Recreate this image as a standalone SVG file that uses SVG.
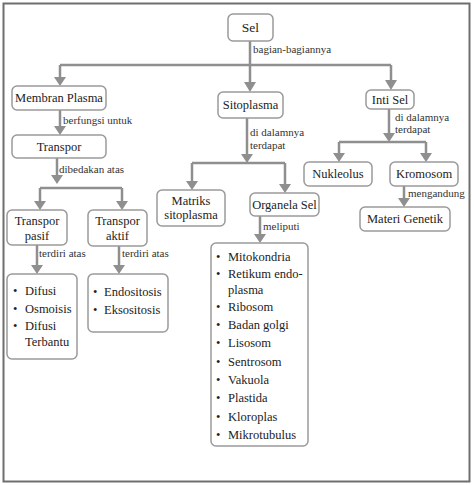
<svg xmlns="http://www.w3.org/2000/svg" width="474" height="485" viewBox="0 0 474 485">
<style>
text{font-family:"Liberation Serif","Times New Roman",serif}
.box{fill:#fff;stroke:#9a9a9a;stroke-width:1.5}
.t{font-size:12.5px;fill:#222;text-anchor:middle}
.li{font-size:12.5px;fill:#222}
.lb{font-size:11px;fill:#333}
.c{stroke:#8f8f8f;stroke-width:2.5;fill:none}
.ah{fill:#8f8f8f}
</style>
<rect x="0" y="0" width="474" height="485" fill="#fff"/>
<rect x="3.5" y="3.5" width="466" height="478" fill="none" stroke="#6e6e6e" stroke-width="2"/>
<g id="connectors">
<path class="c" d="M60,65 H391"/>
<path class="c" d="M250,41 V84"/>
<path class="ah" d="M244,82 L256,82 L250,92 Z"/>
<path class="c" d="M60,65 V78"/><path class="ah" d="M54,77 L66,77 L60,86 Z"/>
<path class="c" d="M391,65 V81"/><path class="ah" d="M385,80 L397,80 L391,90 Z"/>
<path class="c" d="M60,110 V127"/><path class="ah" d="M54,126 L66,126 L60,135 Z"/>
<path class="c" d="M57,158 V176"/><path class="ah" d="M51,175 L63,175 L57,184 Z"/>
<path class="c" d="M40,188 H122 M40,188 V202 M122,188 V202"/>
<path class="ah" d="M34,201 L46,201 L40,210 Z"/><path class="ah" d="M116,201 L128,201 L122,210 Z"/>
<path class="c" d="M247,118 V155"/><path class="ah" d="M241,154 L253,154 L247,163 Z"/>
<path class="c" d="M192,163 H285 M192,163 V182 M285,163 V185"/>
<path class="ah" d="M186,181 L198,181 L192,190 Z"/><path class="ah" d="M279,184 L291,184 L285,193 Z"/>
<path class="c" d="M389,109 V134"/><path class="ah" d="M383,133 L395,133 L389,142 Z"/>
<path class="c" d="M339,142 H426 M339,142 V154 M426,142 V154"/>
<path class="ah" d="M333,153 L345,153 L339,162 Z"/><path class="ah" d="M420,153 L432,153 L426,162 Z"/>
<path class="c" d="M404,186 V199"/><path class="ah" d="M398,198 L410,198 L404,207 Z"/>
<path class="c" d="M260,216 V235"/><path class="ah" d="M254,234 L266,234 L260,243 Z"/>
<path class="c" d="M37,245 V266"/><path class="ah" d="M31,265 L43,265 L37,274 Z"/>
<path class="c" d="M119,246 V266"/><path class="ah" d="M113,265 L125,265 L119,274 Z"/>
<text class="lb" x="253" y="53">bagian-bagiannya</text>
<text class="lb" x="63" y="124">berfungsi untuk</text>
<text class="lb" x="59" y="173">dibedakan atas</text>
<text class="lb" x="250" y="136">di dalamnya</text>
<text class="lb" x="250" y="149">terdapat</text>
<text class="lb" x="395" y="121">di dalamnya</text>
<text class="lb" x="395" y="133">terdapat</text>
<text class="lb" x="408" y="197">mengandung</text>
<text class="lb" x="263" y="230">meliputi</text>
<text class="lb" x="39" y="257">terdiri atas</text>
<text class="lb" x="122" y="257">terdiri atas</text>
</g>
<g id="sel"><rect class="box" x="228" y="14" width="45" height="27" rx="5"/><text class="t" x="250.5" y="32" style="font-size:13.5px">Sel</text></g>
<g id="membran"><rect class="box" x="12" y="86" width="94" height="24" rx="5"/><text class="t" x="59" y="102">Membran Plasma</text></g>
<g id="sitoplasma"><rect class="box" x="218" y="92" width="65" height="26" rx="5"/><text class="t" x="250.5" y="109">Sitoplasma</text></g>
<g id="intisel"><rect class="box" x="366" y="90" width="48" height="19" rx="5"/><text class="t" x="390" y="104">Inti Sel</text></g>
<g id="transpor"><rect class="box" x="12" y="135" width="94" height="23" rx="5"/><text class="t" x="59" y="151">Transpor</text></g>
<g id="pasif"><rect class="box" x="7" y="210" width="60" height="35" rx="5"/><text class="t" x="37" y="225">Transpor</text><text class="t" x="37" y="240">pasif</text></g>
<g id="aktif"><rect class="box" x="88" y="210" width="59" height="36" rx="5"/><text class="t" x="117.5" y="225">Transpor</text><text class="t" x="117.5" y="240">aktif</text></g>
<g id="matriks"><rect class="box" x="157" y="190" width="68" height="36" rx="5"/><text class="t" x="191" y="205">Matriks</text><text class="t" x="191" y="219">sitoplasma</text></g>
<g id="organela"><rect class="box" x="250" y="193" width="69" height="23" rx="5"/><text class="t" x="284.5" y="209">Organela Sel</text></g>
<g id="nukleolus"><rect class="box" x="304" y="162" width="68" height="24" rx="5"/><text class="t" x="338" y="178">Nukleolus</text></g>
<g id="kromosom"><rect class="box" x="390" y="162" width="68" height="24" rx="5"/><text class="t" x="424" y="178">Kromosom</text></g>
<g id="materi"><rect class="box" x="360" y="207" width="90" height="24" rx="5"/><text class="t" x="405" y="223">Materi Genetik</text></g>
<g id="list-pasif"><rect class="box" x="7" y="274" width="70" height="85" rx="5"/>
<text class="li" x="13" y="295">•</text><text class="li" x="25" y="295">Difusi</text>
<text class="li" x="13" y="313">•</text><text class="li" x="25" y="313">Osmoisis</text>
<text class="li" x="13" y="330">•</text><text class="li" x="25" y="330">Difusi</text>
<text class="li" x="25" y="346">Terbantu</text></g>
<g id="list-aktif"><rect class="box" x="88" y="274" width="80" height="58" rx="5"/>
<text class="li" x="93" y="296">•</text><text class="li" x="104" y="296">Endositosis</text>
<text class="li" x="93" y="314">•</text><text class="li" x="104" y="314">Eksositosis</text></g>
<g id="list-organel"><rect class="box" x="211" y="243" width="97" height="203" rx="5"/>
<text class="li" x="216" y="261">•</text><text class="li" x="228" y="261">Mitokondria</text>
<text class="li" x="216" y="278">•</text><text class="li" x="228" y="278">Retikum endo-</text>
<text class="li" x="228" y="294">plasma</text>
<text class="li" x="216" y="311">•</text><text class="li" x="228" y="311">Ribosom</text>
<text class="li" x="216" y="329">•</text><text class="li" x="228" y="329">Badan golgi</text>
<text class="li" x="216" y="347">•</text><text class="li" x="228" y="347">Lisosom</text>
<text class="li" x="216" y="366">•</text><text class="li" x="228" y="366">Sentrosom</text>
<text class="li" x="216" y="384">•</text><text class="li" x="228" y="384">Vakuola</text>
<text class="li" x="216" y="402">•</text><text class="li" x="228" y="402">Plastida</text>
<text class="li" x="216" y="421">•</text><text class="li" x="228" y="421">Kloroplas</text>
<text class="li" x="216" y="439">•</text><text class="li" x="228" y="439">Mikrotubulus</text></g>
</svg>
